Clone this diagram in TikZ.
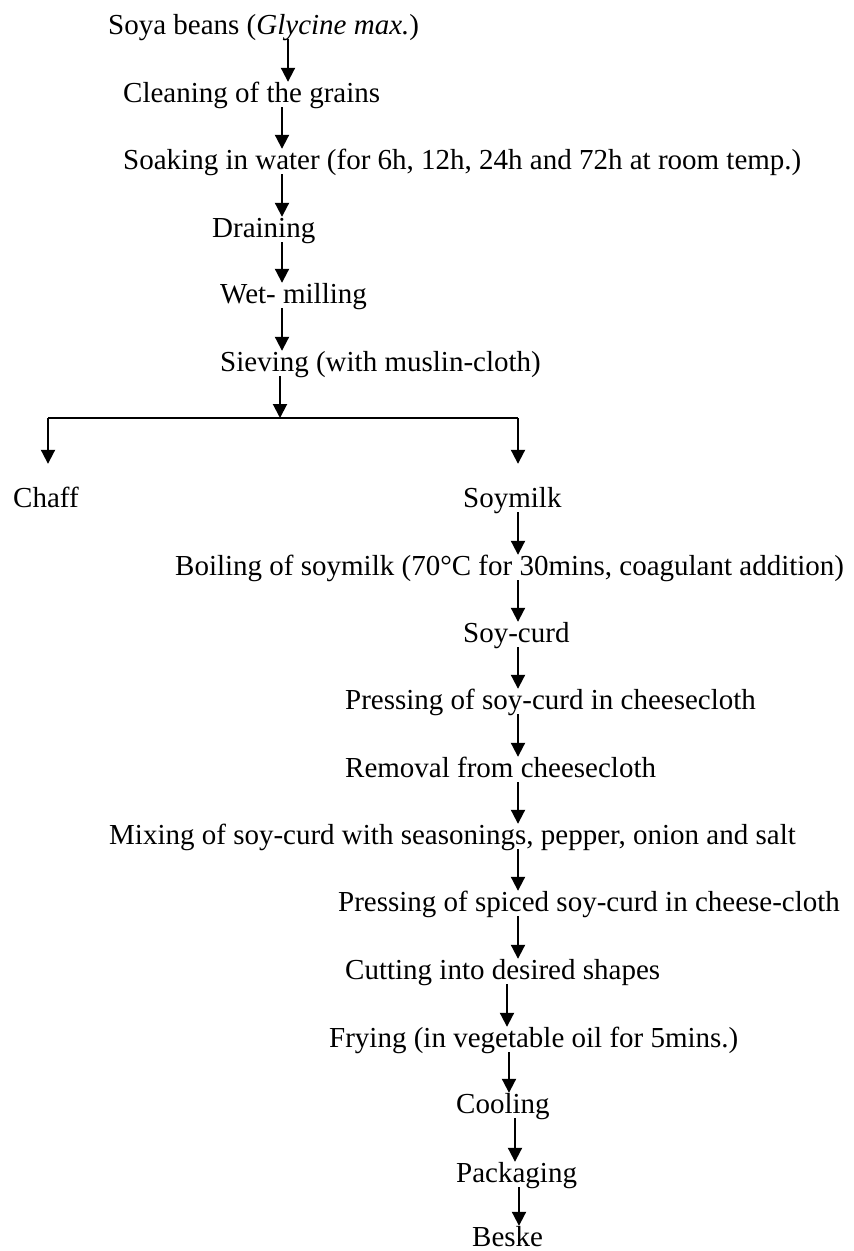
\documentclass[tikz,border=0pt]{standalone}
\usepackage{fontspec}
\setmainfont{Liberation Serif}
\usetikzlibrary{arrows.meta}
\tikzset{
  stage/.style={anchor=base west,inner sep=0pt,text height=20pt,text depth=5pt,
    font=\fontsize{29}{34}\selectfont},
  flow/.style={line width=2pt,arrows=-{Triangle[width=14pt,length=14pt]}}
}

\begin{document}
\begin{tikzpicture}[x=1pt,y=-1pt]
\useasboundingbox (0,0) rectangle (854,1251);
\node[stage] (soya) at (108,34) {Soya beans (\textit{Glycine max.})};
\node[stage] (clean) at (123,102) {Cleaning of the grains};
\node[stage] (soak) at (123,169) {Soaking in water (for 6h, 12h, 24h and 72h at room temp.)};
\node[stage] (drain) at (212,237) {Draining};
\node[stage] (wet) at (220,303) {Wet- milling};
\node[stage] (sieve) at (220,371) {Sieving (with muslin-cloth)};
\node[stage] (chaff) at (13,507) {Chaff};
\node[stage] (soymilk) at (463,507) {Soymilk};
\node[stage] (boil) at (175,575) {Boiling of soymilk (70°C for 30mins, coagulant addition)};
\node[stage] (curd) at (463,642) {Soy-curd};
\node[stage] (press) at (345,709) {Pressing of soy-curd in cheesecloth};
\node[stage] (removal) at (345,777) {Removal from cheesecloth};
\node[stage] (mixing) at (109,844) {Mixing of soy-curd with seasonings, pepper, onion and salt};
\node[stage] (spiced) at (338,911) {Pressing of spiced soy-curd in cheese-cloth};
\node[stage] (cutting) at (345,979) {Cutting into desired shapes};
\node[stage] (frying) at (329,1047) {Frying (in vegetable oil for 5mins.)};
\node[stage] (cooling) at (456,1113) {Cooling};
\node[stage] (packaging) at (456,1182) {Packaging};
\node[stage] (beske) at (472,1246) {Beske};
\coordinate (top) at (288,0);
\coordinate (left) at (282,0);
\coordinate (right) at (518,0);
\coordinate (fork) at (280,418);
\coordinate (forkL) at (48,418);
\coordinate (forkR) at (518,418);
\path (soya.south -| top) edge[flow] (clean.north -| top);
\path (clean.south -| left) edge[flow] (soak.north -| left);
\path (soak.south -| left) edge[flow] (drain.north -| left);
\path (drain.south -| left) edge[flow] (wet.north -| left);
\path (wet.south -| left) edge[flow] (sieve.north -| left);
\path (sieve.south -| fork) edge[flow] (fork);
\draw[line width=2pt] (forkL) -- (forkR);
\path (forkL) edge[flow] ([yshift=23pt]chaff.north -| forkL);
\path (forkR) edge[flow] ([yshift=23pt]soymilk.north -| forkR);
\path (soymilk.south -| right) edge[flow] (boil.north -| right);
\path (boil.south -| right) edge[flow] (curd.north -| right);
\path (curd.south -| right) edge[flow] (press.north -| right);
\path (press.south -| right) edge[flow] (removal.north -| right);
\path (removal.south -| right) edge[flow] (mixing.north -| right);
\path (mixing.south -| right) edge[flow] (spiced.north -| right);
\path (spiced.south -| right) edge[flow] (cutting.north -| right);
\path ([xshift=162pt]cutting.south west) edge[flow] ([xshift=178pt]frying.north west);
\path ([xshift=180pt]frying.south west) edge[flow] ([xshift=53pt]cooling.north west);
\path ([xshift=59pt]cooling.south west) edge[flow] ([xshift=59pt]packaging.north west);
\path ([xshift=63pt]packaging.south west) edge[flow] ([xshift=47pt]beske.north west);
\end{tikzpicture}
\end{document}
